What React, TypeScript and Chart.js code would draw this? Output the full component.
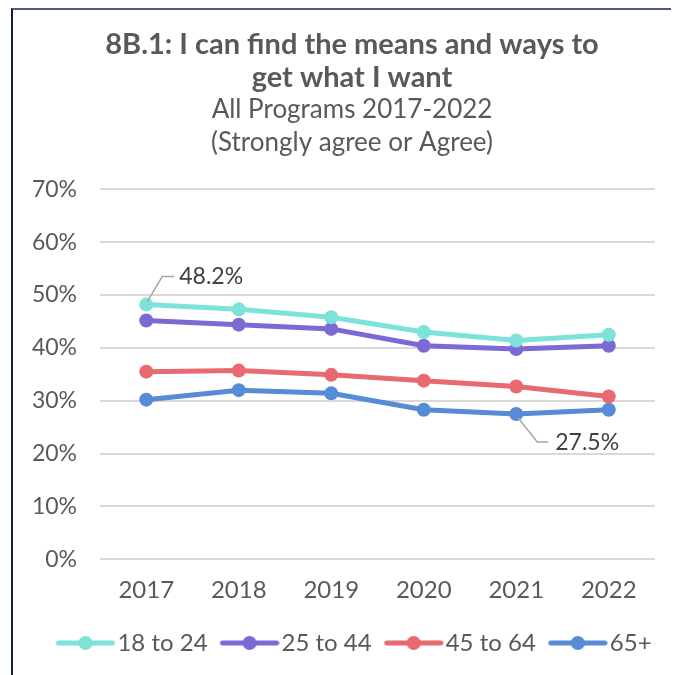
import React, { useEffect, useRef } from "react";
import { Chart, registerables } from "chart.js";

Chart.register(...registerables);

const years = ["2017", "2018", "2019", "2020", "2021", "2022"];
const age18to24 = [48.2, 47.3, 45.8, 43.0, 41.4, 42.5];
const age25to44 = [45.2, 44.4, 43.6, 40.4, 39.8, 40.4];
const age45to64 = [35.5, 35.7, 34.9, 33.8, 32.7, 30.8];
const age65plus = [30.2, 32.0, 31.4, 28.3, 27.5, 28.3];
const seriesNames = ["18 to 24", "25 to 44", "45 to 64", "65+"];
const seriesColors = ["#7DE2D7", "#7C69D3", "#E8696F", "#568BD6"];
const titleLines = ["8B.1: I can find the means and ways to", "get what I want"];
const subtitleLines = ["All Programs 2017-2022", "(Strongly agree or Agree)"];
// labelled points: [datasetIndex, pointIndex]
const labelled = [
  [0, 0],
  [3, 4],
];

const FONT = "Lato, 'Open Sans', sans-serif";
const CANVAS_W = 678;
const CANVAS_H = 655;

// legend marker: line with a dot, drawn asymmetric so that it sits close to the text
const MARK_BOX = 53;
const MARK_W = 73;
const MARK_A = 13; // blank on the left
function legendMarker(color: string): HTMLCanvasElement {
  const c = document.createElement("canvas");
  c.width = MARK_W;
  c.height = 16;
  const ctx = c.getContext("2d")!;
  ctx.strokeStyle = color;
  ctx.lineWidth = 5;
  ctx.lineCap = "round";
  ctx.beginPath();
  ctx.moveTo(MARK_A + 3, 8);
  ctx.lineTo(MARK_W - 3, 8);
  ctx.stroke();
  ctx.fillStyle = color;
  ctx.beginPath();
  ctx.arc((MARK_A + MARK_W) / 2, 8, 7, 0, Math.PI * 2);
  ctx.fill();
  return c;
}

const annotationPlugin = {
  id: "pointAnnotations",
  afterDatasetsDraw(chart: any) {
    const ctx = chart.ctx;
    ctx.save();
    labelled.forEach(([di, pi], k) => {
      const el = chart.getDatasetMeta(di).data[pi];
      const value = chart.data.datasets[di].data[pi];
      const x = el.x;
      const y = el.y;
      ctx.strokeStyle = "#A6A6A6";
      ctx.lineWidth = 1.5;
      ctx.beginPath();
      let tx: number, ty: number;
      if (k === 0) {
        ctx.moveTo(x + 1, y - 3);
        ctx.lineTo(x + 16, y - 28);
        ctx.lineTo(x + 28, y - 28);
        tx = x + 33;
        ty = y - 28;
      } else {
        ctx.moveTo(x + 2, y + 4);
        ctx.lineTo(x + 21, y + 28);
        ctx.lineTo(x + 32, y + 28);
        tx = x + 39;
        ty = y + 29;
      }
      ctx.stroke();
      ctx.fillStyle = "#404040";
      ctx.font = `23px ${FONT}`;
      ctx.textAlign = "left";
      ctx.textBaseline = "middle";
      ctx.fillText(value.toFixed(1) + "%", tx, ty);
    });
    ctx.restore();
  },
};

export default function App() {
  const ref = useRef<HTMLCanvasElement>(null);

  useEffect(() => {
    document.documentElement.style.overflow = "hidden";
    const series = [age18to24, age25to44, age45to64, age65plus];
    const markers = seriesColors.map(legendMarker);
    const chart = new Chart(ref.current!, {
      type: "line",
      data: {
        labels: years,
        datasets: series.map((d, i) => ({
          label: seriesNames[i],
          data: d,
          borderColor: seriesColors[i],
          backgroundColor: seriesColors[i],
          borderWidth: 5,
          pointRadius: 7,
          pointHoverRadius: 7,
          pointBorderWidth: 0,
          tension: 0,
        })),
      },
      options: {
        animation: false,
        responsive: false,
        layout: { padding: 0 },
        plugins: {
          title: {
            display: true,
            text: titleLines,
            color: "#595959",
            font: { family: FONT, size: 29, weight: "bold", lineHeight: 1.11 },
            padding: { top: 19, bottom: 0 },
          },
          subtitle: {
            display: true,
            text: subtitleLines,
            color: "#595959",
            font: { family: FONT, size: 26, weight: "normal", lineHeight: 1.27 },
            padding: { top: 0, bottom: 30 },
          },
          legend: {
            position: "bottom",
            labels: {
              usePointStyle: true,
              pointStyleWidth: MARK_BOX,
              boxHeight: 16,
              padding: 9,
              color: "#595959",
              font: { family: FONT, size: 24 },
              generateLabels: (c: any) =>
                c.data.datasets.map((ds: any, i: number) => ({
                  text: ds.label,
                  fillStyle: ds.borderColor,
                  strokeStyle: ds.borderColor,
                  lineWidth: 0,
                  pointStyle: markers[i],
                  datasetIndex: i,
                  hidden: false,
                  fontColor: "#595959",
                })),
            },
          },
          tooltip: { enabled: false },
        },
        scales: {
          x: {
            offset: true,
            grid: { display: false, drawTicks: false },
            border: { display: false },
            ticks: {
              color: "#595959",
              font: { family: FONT, size: 24 },
              padding: 17,
            },
            afterFit: (s: any) => {
              s.paddingLeft = 0;
              s.paddingRight = 36;
            },
          },
          y: {
            min: 0,
            max: 70,
            grid: { color: "#D9D9D9", lineWidth: 2, drawTicks: false },
            border: { display: false },
            ticks: {
              stepSize: 10,
              color: "#595959",
              font: { family: FONT, size: 23 },
              padding: 23,
              callback: (v: any) => v + "%",
            },
            afterFit: (s: any) => {
              s.width = 87;
            },
          },
        },
      },
      plugins: [annotationPlugin],
    });
    return () => chart.destroy();
  }, []);

  return (
    <div
      style={{
        marginLeft: 3,
        width: 668,
        height: 667,
        borderTop: "2px solid #4B5B78",
        borderLeft: "2px solid #0F1F3D",
        overflow: "hidden",
      }}
    >
      <canvas
        ref={ref}
        width={CANVAS_W}
        height={CANVAS_H}
        style={{ display: "block" }}
      />
    </div>
  );
}
